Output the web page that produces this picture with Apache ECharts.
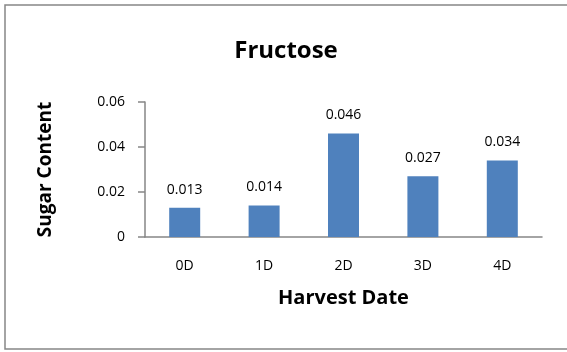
<!DOCTYPE html>
<html>
<head>
<meta charset="utf-8">
<script src="https://cdn.jsdelivr.net/npm/echarts@6/dist/echarts.min.js"></script>
<style>
  html, body { margin: 0; padding: 0; background: #fff; }
  #chart { width: 567px; height: 352px; }
</style>
</head>
<body>
<div id="chart"></div>
<script>
// Fructose content by harvest date
const categories = ['0D', '1D', '2D', '3D', '4D'];
const fructose = [0.013, 0.014, 0.046, 0.027, 0.034];
const yTicks = [0, 0.02, 0.04, 0.06];

const FONT = '"Open Sans", "Noto Sans", sans-serif';
const chart = echarts.init(document.getElementById('chart'), null, { renderer: 'canvas' });

chart.setOption({
  animation: false,
  backgroundColor: '#fff',
  title: {
    text: 'Fructose',
    left: 281,
    textAlign: 'center',
    top: 34,
    textStyle: { fontFamily: FONT, fontWeight: 'bold', fontSize: 24, color: '#000' }
  },
  graphic: [{
    type: 'rect',
    shape: { x: 5, y: 5, width: 580, height: 344 },
    style: { fill: 'none', stroke: '#868686', lineWidth: 1.5 },
    silent: true
  }],
  grid: { left: 145, right: 25, top: 102, bottom: 115 },
  xAxis: {
    type: 'category',
    data: categories,
    name: 'Harvest Date',
    nameLocation: 'middle',
    nameGap: 51,
    nameTextStyle: { fontFamily: FONT, fontWeight: 'bold', fontSize: 20, color: '#000' },
    axisLine: { lineStyle: { color: '#868686', width: 1.5 } },
    axisTick: { show: false },
    axisLabel: { fontFamily: FONT, fontSize: 14, color: '#000', margin: 22 }
  },
  yAxis: {
    type: 'value',
    min: yTicks[0],
    max: yTicks[yTicks.length - 1],
    interval: 0.02,
    name: 'Sugar Content',
    nameLocation: 'middle',
    nameGap: 90,
    nameRotate: 90,
    nameTextStyle: { fontFamily: FONT, fontWeight: 'bold', fontSize: 19, color: '#000' },
    axisLine: { show: true, lineStyle: { color: '#868686', width: 1.5 } },
    axisTick: { show: true, inside: false, length: 7, lineStyle: { color: '#868686', width: 1.5 } },
    splitLine: { show: false },
    axisLabel: {
      fontFamily: FONT, fontSize: 14, color: '#000', margin: 20,
      formatter: v => (v === 0 ? '0' : v.toFixed(2))
    }
  },
  series: [{
    type: 'bar',
    data: fructose,
    barWidth: 31,
    itemStyle: { color: '#4F81BD' },
    label: {
      show: true,
      position: 'top',
      distance: 11,
      fontFamily: FONT,
      fontSize: 14,
      color: '#000',
      formatter: p => p.value.toFixed(3)
    }
  }]
});
</script>
</body>
</html>
